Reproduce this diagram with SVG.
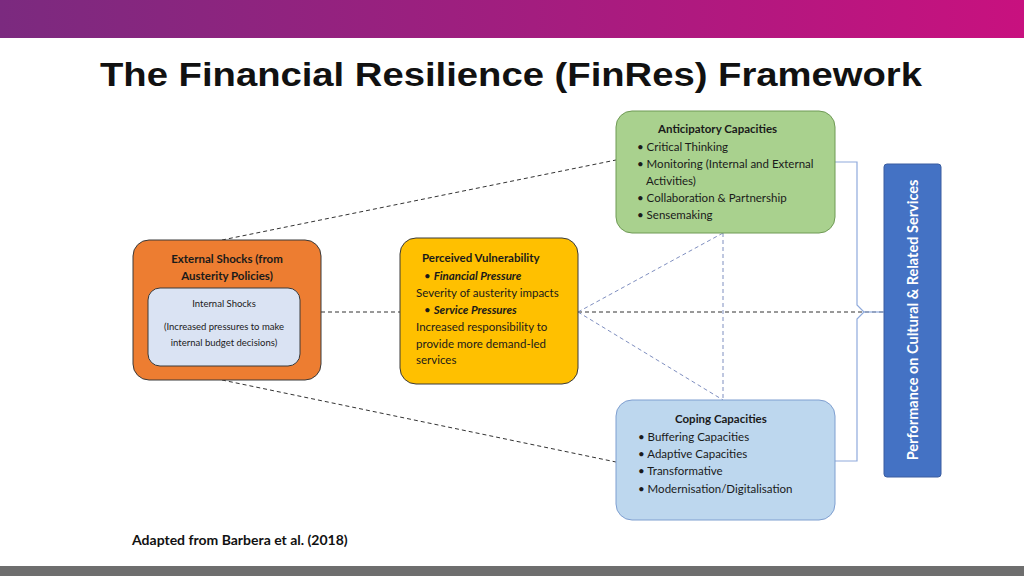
<svg xmlns="http://www.w3.org/2000/svg" width="1024" height="576" viewBox="0 0 1024 576">
<defs>
<linearGradient id="hdr" x1="0" x2="1" y1="0" y2="0"><stop offset="0" stop-color="#7b2a7f"/><stop offset="1" stop-color="#c8117f"/></linearGradient>
<style>
.t{font-family:Lato,"Liberation Sans",sans-serif;font-size:11.5px;fill:#1a1a1a}
.b{font-weight:bold}
.bi{font-weight:bold;font-style:italic}
.d{fill:none;stroke:#333;stroke-width:1;stroke-dasharray:4 3}
.db{fill:none;stroke:#7f8fc0;stroke-width:1;stroke-dasharray:4 3}
</style>
</defs>
<rect width="1024" height="576" fill="#fff"/>
<rect width="1024" height="38" fill="url(#hdr)"/>
<rect y="566" width="1024" height="10" fill="#6e6e6e"/>
<text x="100" y="86" textLength="822" lengthAdjust="spacingAndGlyphs" style="font-family:'Liberation Sans',Arial,sans-serif;font-size:34px;font-weight:bold;fill:#111">The Financial Resilience (FinRes) Framework</text>
<g id="connectors">
<line class="d" x1="222" y1="240" x2="616" y2="160"/>
<line class="d" x1="222" y1="380" x2="616" y2="462"/>
<line class="d" x1="321" y1="312" x2="400" y2="312"/>
<line class="d" x1="578" y1="312" x2="884" y2="312"/>
<line class="db" x1="578" y1="312" x2="723" y2="233"/>
<line class="db" x1="578" y1="312" x2="723" y2="400"/>
<line class="db" x1="723" y1="233" x2="723" y2="400"/>
<path d="M835,162 H857 V305 L864,312 L857,319 V461 H835" fill="none" stroke="#8faadc" stroke-width="1.2"/>
<line x1="864" y1="312" x2="884" y2="312" stroke="#8faadc" stroke-width="1.2"/>
</g>
<g id="external">
<rect x="133" y="240" width="188" height="140" rx="16" fill="#ed7d31" stroke="#3a3a3a" stroke-width="1"/>
<text class="t" text-anchor="middle" x="227" y="263"><tspan class="b" x="227">External Shocks (from</tspan><tspan class="b" x="227" dy="17">Austerity Policies)</tspan></text>
</g>
<g id="internal">
<rect x="148" y="288" width="152" height="78" rx="12" fill="#dae3f3" stroke="#3a3a3a" stroke-width="1"/>
<text class="t" text-anchor="middle" style="font-size:9.5px"><tspan x="224" y="307">Internal Shocks</tspan><tspan x="224" y="330">(Increased pressures to make</tspan><tspan x="224" y="346">internal budget decisions)</tspan></text>
</g>
<g id="vulnerability">
<rect x="400" y="238" width="178" height="146" rx="16" fill="#ffc000" stroke="#3a3a3a" stroke-width="1"/>
<text class="t"><tspan class="b" x="422" y="262">Perceived Vulnerability</tspan><tspan x="424" y="280">• </tspan><tspan class="bi">Financial Pressure</tspan><tspan x="416" y="297">Severity of austerity impacts</tspan><tspan x="424" y="314">• </tspan><tspan class="bi">Service Pressures</tspan><tspan x="416" y="331">Increased responsibility to</tspan><tspan x="416" y="348">provide more demand-led</tspan><tspan x="416" y="364">services</tspan></text>
</g>
<g id="anticipatory">
<rect x="616" y="111" width="219" height="122" rx="16" fill="#a9d18e" stroke="#6f9a55" stroke-width="1"/>
<text class="t"><tspan class="b" x="658" y="133">Anticipatory Capacities</tspan><tspan x="637" y="151">• Critical Thinking</tspan><tspan x="637" y="168">• Monitoring (Internal and External</tspan><tspan x="646" y="185">Activities)</tspan><tspan x="637" y="202">• Collaboration &amp; Partnership</tspan><tspan x="637" y="219">• Sensemaking</tspan></text>
</g>
<g id="coping">
<rect x="616" y="400" width="219" height="120" rx="16" fill="#bdd7ee" stroke="#7f9fd0" stroke-width="1"/>
<text class="t"><tspan class="b" x="675" y="423">Coping Capacities</tspan><tspan x="638" y="441">• Buffering Capacities</tspan><tspan x="638" y="458">• Adaptive Capacities</tspan><tspan x="638" y="475">• Transformative</tspan><tspan x="638" y="493">• Modernisation/Digitalisation</tspan></text>
</g>
<g id="performance">
<rect x="884" y="164" width="57" height="313" rx="3" fill="#4472c4" stroke="#3a5da0" stroke-width="1"/>
<text transform="translate(913,320) rotate(-90)" text-anchor="middle" dy="5" style="font-family:Lato,'Liberation Sans',sans-serif;font-size:14.5px;font-weight:bold;fill:#fff">Performance on Cultural &amp; Related Services</text>
</g>
<text x="132" y="545" style="font-family:Lato,'Liberation Sans',sans-serif;font-size:14px;font-weight:bold;fill:#111">Adapted from Barbera et al. (2018)</text>
</svg>
